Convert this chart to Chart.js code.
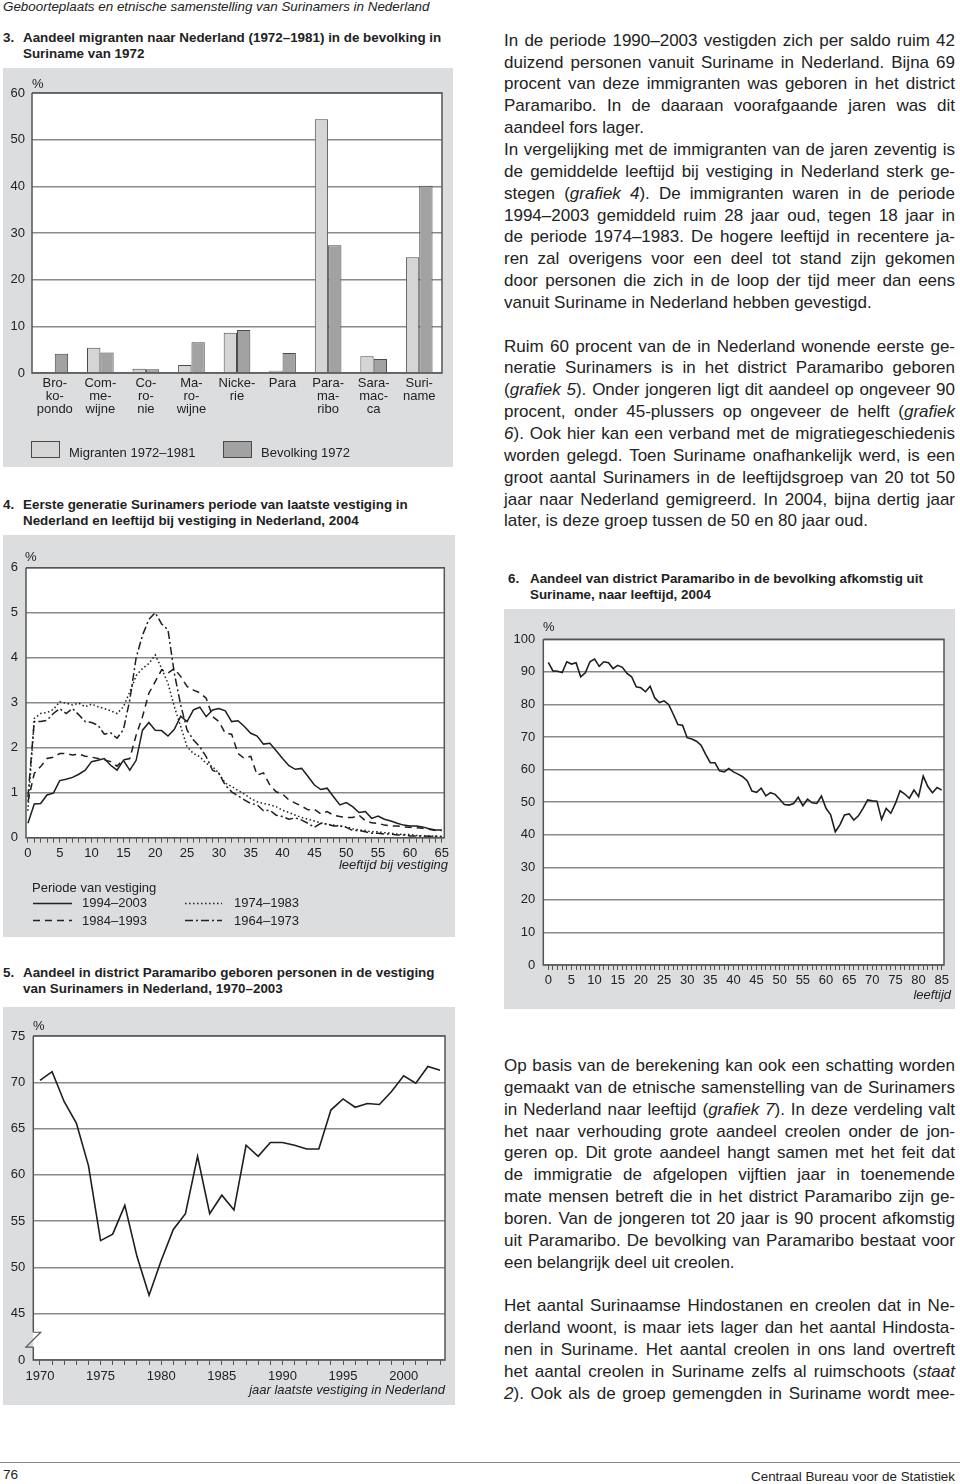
<!DOCTYPE html>
<html>
<head>
<meta charset="utf-8">
<script src="https://cdn.jsdelivr.net/npm/chart.js@4.4.1/dist/chart.umd.min.js"></script>
<style>
body{margin:0;width:960px;height:1484px;position:relative;background:#fff;font-family:"Liberation Sans",Arial,sans-serif;color:#222;overflow:hidden}
.a{position:absolute;white-space:nowrap;font-size:13px;line-height:14px}
.ti{position:absolute;font-weight:bold;font-size:13.4px;line-height:16px;white-space:nowrap}
canvas{position:absolute;background:#dcdddf}
.txt{position:absolute;left:504px;width:451px;font-size:17px;line-height:21.85px}
.txt div{white-space:nowrap;text-align:justify;text-align-last:justify;height:21.85px}
.txt div.l{text-align-last:left}
.sw{position:absolute;width:27px;height:15px;border:1px solid #4a4a4a}
</style>
</head>
<body>
<div class="a" style="left:3px;top:0px;font-style:italic;font-size:13.4px">Geboorteplaats en etnische samenstelling van Surinamers in Nederland</div>

<!-- grafiek 3 -->
<div class="ti" style="left:3px;top:30px">3.</div>
<div class="ti" style="left:23px;top:30px">Aandeel migranten naar Nederland (1972–1981) in de bevolking in<br>Suriname van 1972</div>
<canvas id="c3" width="450" height="399" style="left:3px;top:68px"></canvas>
<div class="a" style="left:32px;top:77px">%</div>
<div class="sw" style="left:31px;top:441px;background:#d5d5d5"></div>
<div class="a" style="left:69px;top:446px">Migranten 1972–1981</div>
<div class="sw" style="left:223px;top:441px;background:#a2a2a2"></div>
<div class="a" style="left:261px;top:446px">Bevolking 1972</div>

<!-- grafiek 4 -->
<div class="ti" style="left:3px;top:497px">4.</div>
<div class="ti" style="left:23px;top:497px">Eerste generatie Surinamers periode van laatste vestiging in<br>Nederland en leeftijd bij vestiging in Nederland, 2004</div>
<canvas id="c4" width="452" height="402" style="left:3px;top:535px"></canvas>
<div class="a" style="left:25px;top:550px">%</div>
<div class="a" style="right:512px;top:858px;font-style:italic">leeftijd bij vestiging</div>
<div class="a" style="left:32px;top:881px">Periode van vestiging</div>
<svg style="position:absolute;left:33px;top:902px" width="40" height="3"><line x1="0" y1="1.5" x2="39" y2="1.5" stroke="#222" stroke-width="1.5"/></svg>
<div class="a" style="left:82px;top:896px">1994–2003</div>
<svg style="position:absolute;left:33px;top:919px" width="40" height="3"><line x1="0" y1="1.5" x2="39" y2="1.5" stroke="#222" stroke-width="1.5" stroke-dasharray="7 5"/></svg>
<div class="a" style="left:82px;top:914px">1984–1993</div>
<svg style="position:absolute;left:185px;top:902px" width="40" height="3"><line x1="0" y1="1.5" x2="37" y2="1.5" stroke="#222" stroke-width="1.5" stroke-dasharray="1.5 2.5"/></svg>
<div class="a" style="left:234px;top:896px">1974–1983</div>
<svg style="position:absolute;left:185px;top:919px" width="40" height="3"><line x1="0" y1="1.5" x2="37" y2="1.5" stroke="#222" stroke-width="1.5" stroke-dasharray="8 3 2 3"/></svg>
<div class="a" style="left:234px;top:914px">1964–1973</div>

<!-- grafiek 5 -->
<div class="ti" style="left:3px;top:965px">5.</div>
<div class="ti" style="left:23px;top:965px">Aandeel in district Paramaribo geboren personen in de vestiging<br>van Surinamers in Nederland, 1970–2003</div>
<canvas id="c5" width="452" height="398" style="left:3px;top:1007px"></canvas>
<div class="a" style="left:33px;top:1019px">%</div>
<div class="a" style="right:515px;top:1383px;font-style:italic">jaar laatste vestiging in Nederland</div>

<!-- grafiek 6 -->
<div class="ti" style="left:508px;top:571px">6.</div>
<div class="ti" style="left:530px;top:571px">Aandeel van district Paramaribo in de bevolking afkomstig uit<br>Suriname, naar leeftijd, 2004</div>
<canvas id="c6" width="451" height="400" style="left:504px;top:609px"></canvas>
<div class="a" style="left:543px;top:620px">%</div>
<div class="a" style="right:9px;top:988px;font-style:italic">leeftijd</div>

<div class="txt" style="top:29.8px">
<div>In de periode 1990–2003 vestigden zich per saldo ruim 42</div>
<div>duizend personen vanuit Suriname in Nederland. Bijna 69</div>
<div>procent van deze immigranten was geboren in het district</div>
<div>Paramaribo. In de daaraan voorafgaande jaren was dit</div>
<div class="l">aandeel fors lager.</div>
<div>In vergelijking met de immigranten van de jaren zeventig is</div>
<div>de gemiddelde leeftijd bij vestiging in Nederland sterk ge-</div>
<div>stegen (<i>grafiek 4</i>). De immigranten waren in de periode</div>
<div>1994–2003 gemiddeld ruim 28 jaar oud, tegen 18 jaar in</div>
<div>de periode 1974–1983. De hogere leeftijd in recentere ja-</div>
<div>ren zal overigens voor een deel tot stand zijn gekomen</div>
<div>door personen die zich in de loop der tijd meer dan eens</div>
<div class="l">vanuit Suriname in Nederland hebben gevestigd.</div>
<div class="l"></div>
<div>Ruim 60 procent van de in Nederland wonende eerste ge-</div>
<div>neratie Surinamers is in het district Paramaribo geboren</div>
<div>(<i>grafiek 5</i>). Onder jongeren ligt dit aandeel op ongeveer 90</div>
<div>procent, onder 45-plussers op ongeveer de helft (<i>grafiek</i></div>
<div><i>6</i>). Ook hier kan een verband met de migratiegeschiedenis</div>
<div>worden gelegd. Toen Suriname onafhankelijk werd, is een</div>
<div>groot aantal Surinamers in de leeftijdsgroep van 20 tot 50</div>
<div>jaar naar Nederland gemigreerd. In 2004, bijna dertig jaar</div>
<div class="l">later, is deze groep tussen de 50 en 80 jaar oud.</div>
</div>

<div class="txt" style="top:1055.1px">
<div>Op basis van de berekening kan ook een schatting worden</div>
<div>gemaakt van de etnische samenstelling van de Surinamers</div>
<div>in Nederland naar leeftijd (<i>grafiek 7</i>). In deze verdeling valt</div>
<div>het naar verhouding grote aandeel creolen onder de jon-</div>
<div>geren op. Dit grote aandeel hangt samen met het feit dat</div>
<div>de immigratie de afgelopen vijftien jaar in toenemende</div>
<div>mate mensen betreft die in het district Paramaribo zijn ge-</div>
<div>boren. Van de jongeren tot 20 jaar is 90 procent afkomstig</div>
<div>uit Paramaribo. De bevolking van Paramaribo bestaat voor</div>
<div class="l">een belangrijk deel uit creolen.</div>
<div class="l"></div>
<div>Het aantal Surinaamse Hindostanen en creolen dat in Ne-</div>
<div>derland woont, is maar iets lager dan het aantal Hindosta-</div>
<div>nen in Suriname. Het aantal creolen in ons land overtreft</div>
<div>het aantal creolen in Suriname zelfs al ruimschoots (<i>staat</i></div>
<div><i>2</i>). Ook als de groep gemengden in Suriname wordt mee-</div>
</div>

<div style="position:absolute;left:0;top:1462px;width:960px;height:1px;background:#888"></div>
<div class="a" style="left:3px;top:1468px;font-size:13.6px">76</div>
<div class="a" style="right:5px;top:1470px;font-size:13.4px">Centraal Bureau voor de Statistiek</div>

<script>
// grafiek 3
const districts = [["Bro-","ko-","pondo"],["Com-","me-","wijne"],["Co-","ro-","nie"],["Ma-","ro-","wijne"],["Nicke-","rie"],["Para"],["Para-","ma-","ribo"],["Sara-","mac-","ca"],["Suri-","name"]];
const migranten = [0.2, 5.4, 0.9, 1.7, 8.6, 0.5, 54.4, 3.6, 24.8];
const bevolking = [4.1, 4.4, 0.8, 6.6, 9.2, 4.3, 27.4, 3.0, 40.1];

// grafiek 4 (leeftijd 0..65)
const ages4 = Array.from({length: 66}, (_, i) => i);
const p1994 = [0.32,0.75,0.76,0.95,0.99,1.27,1.30,1.34,1.41,1.50, 1.69,1.72,1.76,1.61,1.50,1.72,1.50,1.72,2.39,2.56, 2.39,2.38,2.26,2.41,2.70,2.58,2.84,2.90,2.69,2.84, 2.87,2.82,2.58,2.60,2.47,2.32,2.26,2.08,2.10,1.93, 1.76,1.60,1.52,1.54,1.36,1.17,1.07,1.10,0.91,0.73, 0.78,0.69,0.56,0.58,0.43,0.48,0.41,0.37,0.32,0.28, 0.26,0.26,0.24,0.20,0.17,0.17];
const p1984 = [0.80,1.43,1.58,1.76,1.79,1.87,1.87,1.84,1.86,1.81, 1.79,1.76,1.73,1.69,1.59,1.73,1.76,2.28,2.69,3.21, 3.47,3.73,3.66,3.76,3.58,3.36,3.28,3.22,3.10,2.69, 2.58,2.32,2.30,1.87,1.76,1.81,1.39,1.44,1.17,1.02, 0.97,0.84,0.77,0.70,0.62,0.63,0.53,0.58,0.50,0.47, 0.45,0.45,0.50,0.38,0.33,0.32,0.28,0.26,0.26,0.24, 0.23,0.22,0.21,0.19,0.16,0.16];
const p1974 = [0.60,2.65,2.76,2.78,2.85,3.02,2.99,2.95,2.99,2.91, 2.97,2.91,2.87,2.82,2.76,2.91,3.24,3.60,3.76,3.87, 4.06,3.76,3.43,2.91,2.47,2.02,1.87,1.80,1.65,1.58, 1.43,1.21,1.14,1.05,0.97,0.87,0.80,0.76,0.73,0.69, 0.61,0.56,0.50,0.45,0.41,0.37,0.33,0.30,0.28,0.26, 0.24,0.20,0.17,0.16,0.13,0.13,0.11,0.10,0.08,0.07, 0.07,0.05,0.04,0.04,0.03,0.03];
const p1964 = [0.90,2.58,2.58,2.61,2.76,2.87,2.76,2.87,2.73,2.58, 2.56,2.50,2.30,2.33,2.21,2.40,3.06,4.00,4.50,4.85, 5.00,4.75,4.62,3.65,2.95,2.39,2.17,2.02,1.80,1.50, 1.43,1.17,1.02,0.93,0.84,0.76,0.73,0.60,0.61,0.50, 0.47,0.41,0.44,0.39,0.32,0.23,0.32,0.30,0.26,0.26, 0.23,0.16,0.16,0.13,0.10,0.10,0.08,0.08,0.06,0.06, 0.04,0.04,0.04,0.03,0.03,0.02];

// grafiek 5
const years5 = [1970,1971,1972,1973,1974,1975,1976,1977,1978,1979,1980,1981,1982,1983,1984,1985,1986,1987,1988,1989,1990,1991,1992,1993,1994,1995,1996,1997,1998,1999,2000,2001,2002,2003];
const paramaribo5 = [70.2,71.15,67.9,65.6,61.0,52.9,53.6,56.7,51.2,47.0, 50.75,54.1,55.8,62.0,55.8,57.8,56.2,63.2,62.0,63.5, 63.5,63.2,62.8,62.8,67.0,68.2,67.3,67.7,67.6,69.0, 70.7,69.9,71.7,71.3];
const yTicks5 = [40, 45, 50, 55, 60, 65, 70, 75]; // 40 staat voor de as-onderbreking (label 0)

// grafiek 6 (leeftijd 0..85)
const ages6 = Array.from({length: 86}, (_, i) => i);
const paramaribo6 = [92.9,90.3,90.2,89.8,93.1,92.4,92.8,88.5,89.7,93.1, 93.9,91.7,93.1,92.8,91.0,92.0,91.4,89.5,88.5,85.4, 85.1,83.9,85.6,82.0,80.6,81.1,80.0,77.0,73.8,73.6, 69.8,69.4,68.7,67.5,64.7,62.1,62.1,59.6,59.3,60.3, 59.3,58.6,57.8,56.5,53.4,53.0,54.3,51.9,52.9,52.4, 50.9,49.3,49.1,49.6,51.5,48.9,50.9,49.8,49.6,51.9, 48.1,46.1,40.9,43.0,46.1,46.4,44.5,45.8,48.1,50.7, 50.4,50.3,44.7,48.1,46.6,49.6,53.5,52.5,51.2,53.7, 51.7,58.0,54.8,52.9,54.5,53.7];

Chart.defaults.font.family = '"Liberation Sans", Arial, sans-serif';
Chart.defaults.font.size = 13;
Chart.defaults.color = '#222';

// witte plotvlakte + kader (met onderbreking)
const frame = {
    id: 'frame',
    beforeDraw(chart) {
        const {ctx, chartArea: a} = chart;
        ctx.save();
        ctx.fillStyle = '#fff';
        ctx.fillRect(a.left, a.top, a.right - a.left, a.bottom - a.top);
        ctx.restore();
    },
    afterDatasetsDraw(chart, args, opts) {
        const {ctx, chartArea: a} = chart;
        ctx.save();
        ctx.strokeStyle = '#555';
        ctx.lineWidth = 1.5;
        ctx.beginPath();
        ctx.moveTo(a.left, a.top);
        ctx.lineTo(a.right, a.top);
        ctx.lineTo(a.right, a.bottom);
        ctx.lineTo(a.left, a.bottom);
        if (opts.gap) {
            const y = chart.scales.y;
            const lo = y.getPixelForValue(opts.gap[0]), hi = y.getPixelForValue(opts.gap[1]);
            ctx.lineTo(a.left, lo);
            ctx.moveTo(a.left, hi);
            ctx.lineTo(a.left, a.top);
            ctx.stroke();
            ctx.beginPath();
            ctx.lineWidth = 1.2;
            ctx.moveTo(a.left, hi);
            ctx.lineTo(a.left + 7.4, hi);
            ctx.lineTo(a.left - 7.4, lo);
            ctx.lineTo(a.left, lo);
        } else {
            ctx.lineTo(a.left, a.top);
        }
        ctx.stroke();
        ctx.restore();
    }
};

const gridY = {color: '#8a8a8a', lineWidth: 1.5, drawTicks: false};
const tickX = {drawOnChartArea: false, drawTicks: true, tickLength: 5, color: '#555', lineWidth: 1};

new Chart(document.getElementById('c3'), {
    type: 'bar',
    data: {
        labels: districts,
        datasets: [
            {label: 'Migranten 1972–1981', data: migranten, backgroundColor: '#d5d5d5', borderColor: '#4a4a4a', borderWidth: 1},
            {label: 'Bevolking 1972', data: bevolking, backgroundColor: '#a2a2a2', borderColor: '#4a4a4a', borderWidth: 1}
        ]
    },
    options: {
        responsive: false,
        animation: false,
        layout: {padding: {left: 0, top: 25, right: 11, bottom: 0}},
        datasets: {bar: {categoryPercentage: 0.585, barPercentage: 1}},
        plugins: {legend: {display: false}, tooltip: {enabled: false}, frame: {}},
        scales: {
            x: {
                grid: {display: false, drawTicks: false}, border: {display: false},
                ticks: {font: {size: 13, lineHeight: 1}, padding: 3.5, maxRotation: 0, autoSkip: false},
                afterFit(s) { s.height = 94; }
            },
            y: {
                min: 0, max: 60,
                ticks: {stepSize: 10, padding: 7},
                grid: gridY, border: {display: false},
                afterFit(s) { s.width = 29; }
            }
        }
    },
    plugins: [frame]
});

const ink = '#1e1e1e';
new Chart(document.getElementById('c4'), {
    type: 'line',
    data: {
        labels: ages4,
        datasets: [
            {label: '1994–2003', data: p1994, borderColor: ink, borderWidth: 1.5},
            {label: '1984–1993', data: p1984, borderColor: ink, borderWidth: 1.5, borderDash: [7, 5]},
            {label: '1974–1983', data: p1974, borderColor: ink, borderWidth: 1.5, borderDash: [1.5, 2.5]},
            {label: '1964–1973', data: p1964, borderColor: ink, borderWidth: 1.5, borderDash: [8, 3, 2, 3]}
        ]
    },
    options: {
        responsive: false,
        animation: false,
        elements: {point: {radius: 0}, line: {tension: 0}},
        layout: {padding: {left: 0, top: 32.7, right: 10.7, bottom: 0}},
        plugins: {legend: {display: false}, tooltip: {enabled: false}, frame: {}},
        scales: {
            x: {
                type: 'linear', min: -0.3, max: 65.4,
                afterBuildTicks(s) { s.ticks = ages4.map(v => ({value: v})); },
                ticks: {callback: v => v % 5 === 0 ? v : '', padding: 3, maxRotation: 0, autoSkip: false},
                grid: tickX, border: {display: false},
                afterFit(s) { s.height = 99.3; }
            },
            y: {
                min: 0, max: 6,
                ticks: {stepSize: 1, padding: 8},
                grid: gridY, border: {display: false},
                afterFit(s) { s.width = 23; }
            }
        }
    },
    plugins: [frame]
});

new Chart(document.getElementById('c5'), {
    type: 'line',
    data: {
        labels: years5,
        datasets: [{label: 'Paramaribo', data: paramaribo5, borderColor: ink, borderWidth: 1.6}]
    },
    options: {
        responsive: false,
        animation: false,
        elements: {point: {radius: 0}, line: {tension: 0}},
        layout: {padding: {left: 0, top: 29, right: 10, bottom: 0}},
        plugins: {legend: {display: false}, tooltip: {enabled: false}, frame: {gap: [41.4, 43.0]}},
        scales: {
            x: {
                type: 'linear', min: 1969.45, max: 2003.41,
                afterBuildTicks(s) { s.ticks = years5.map(v => ({value: v})); },
                ticks: {callback: v => v % 5 === 0 ? String(v) : '', padding: 4, maxRotation: 0, autoSkip: false},
                grid: tickX, border: {display: false},
                afterFit(s) { s.height = 45; }
            },
            y: {
                min: 40, max: 75,
                afterBuildTicks(s) { s.ticks = yTicks5.map(v => ({value: v})); },
                ticks: {callback: v => v === 40 ? '0' : v, padding: 8},
                grid: gridY, border: {display: false},
                afterFit(s) { s.width = 30.3; }
            }
        }
    },
    plugins: [frame]
});

new Chart(document.getElementById('c6'), {
    type: 'line',
    data: {
        labels: ages6,
        datasets: [{label: 'Paramaribo', data: paramaribo6, borderColor: ink, borderWidth: 1.6}]
    },
    options: {
        responsive: false,
        animation: false,
        elements: {point: {radius: 0}, line: {tension: 0}},
        layout: {padding: {left: 0, top: 30.3, right: 11, bottom: 0}},
        plugins: {legend: {display: false}, tooltip: {enabled: false}, frame: {}},
        scales: {
            x: {
                type: 'linear', min: -1.08, max: 85.49,
                afterBuildTicks(s) { s.ticks = ages6.map(v => ({value: v})); },
                ticks: {callback: v => v % 5 === 0 ? v : '', padding: 3, maxRotation: 0, autoSkip: false},
                grid: tickX, border: {display: false},
                afterFit(s) { s.height = 44; }
            },
            y: {
                min: 0, max: 100,
                ticks: {stepSize: 10, padding: 8},
                grid: gridY, border: {display: false},
                afterFit(s) { s.width = 39.3; }
            }
        }
    },
    plugins: [frame]
});
</script>
</body>
</html>
